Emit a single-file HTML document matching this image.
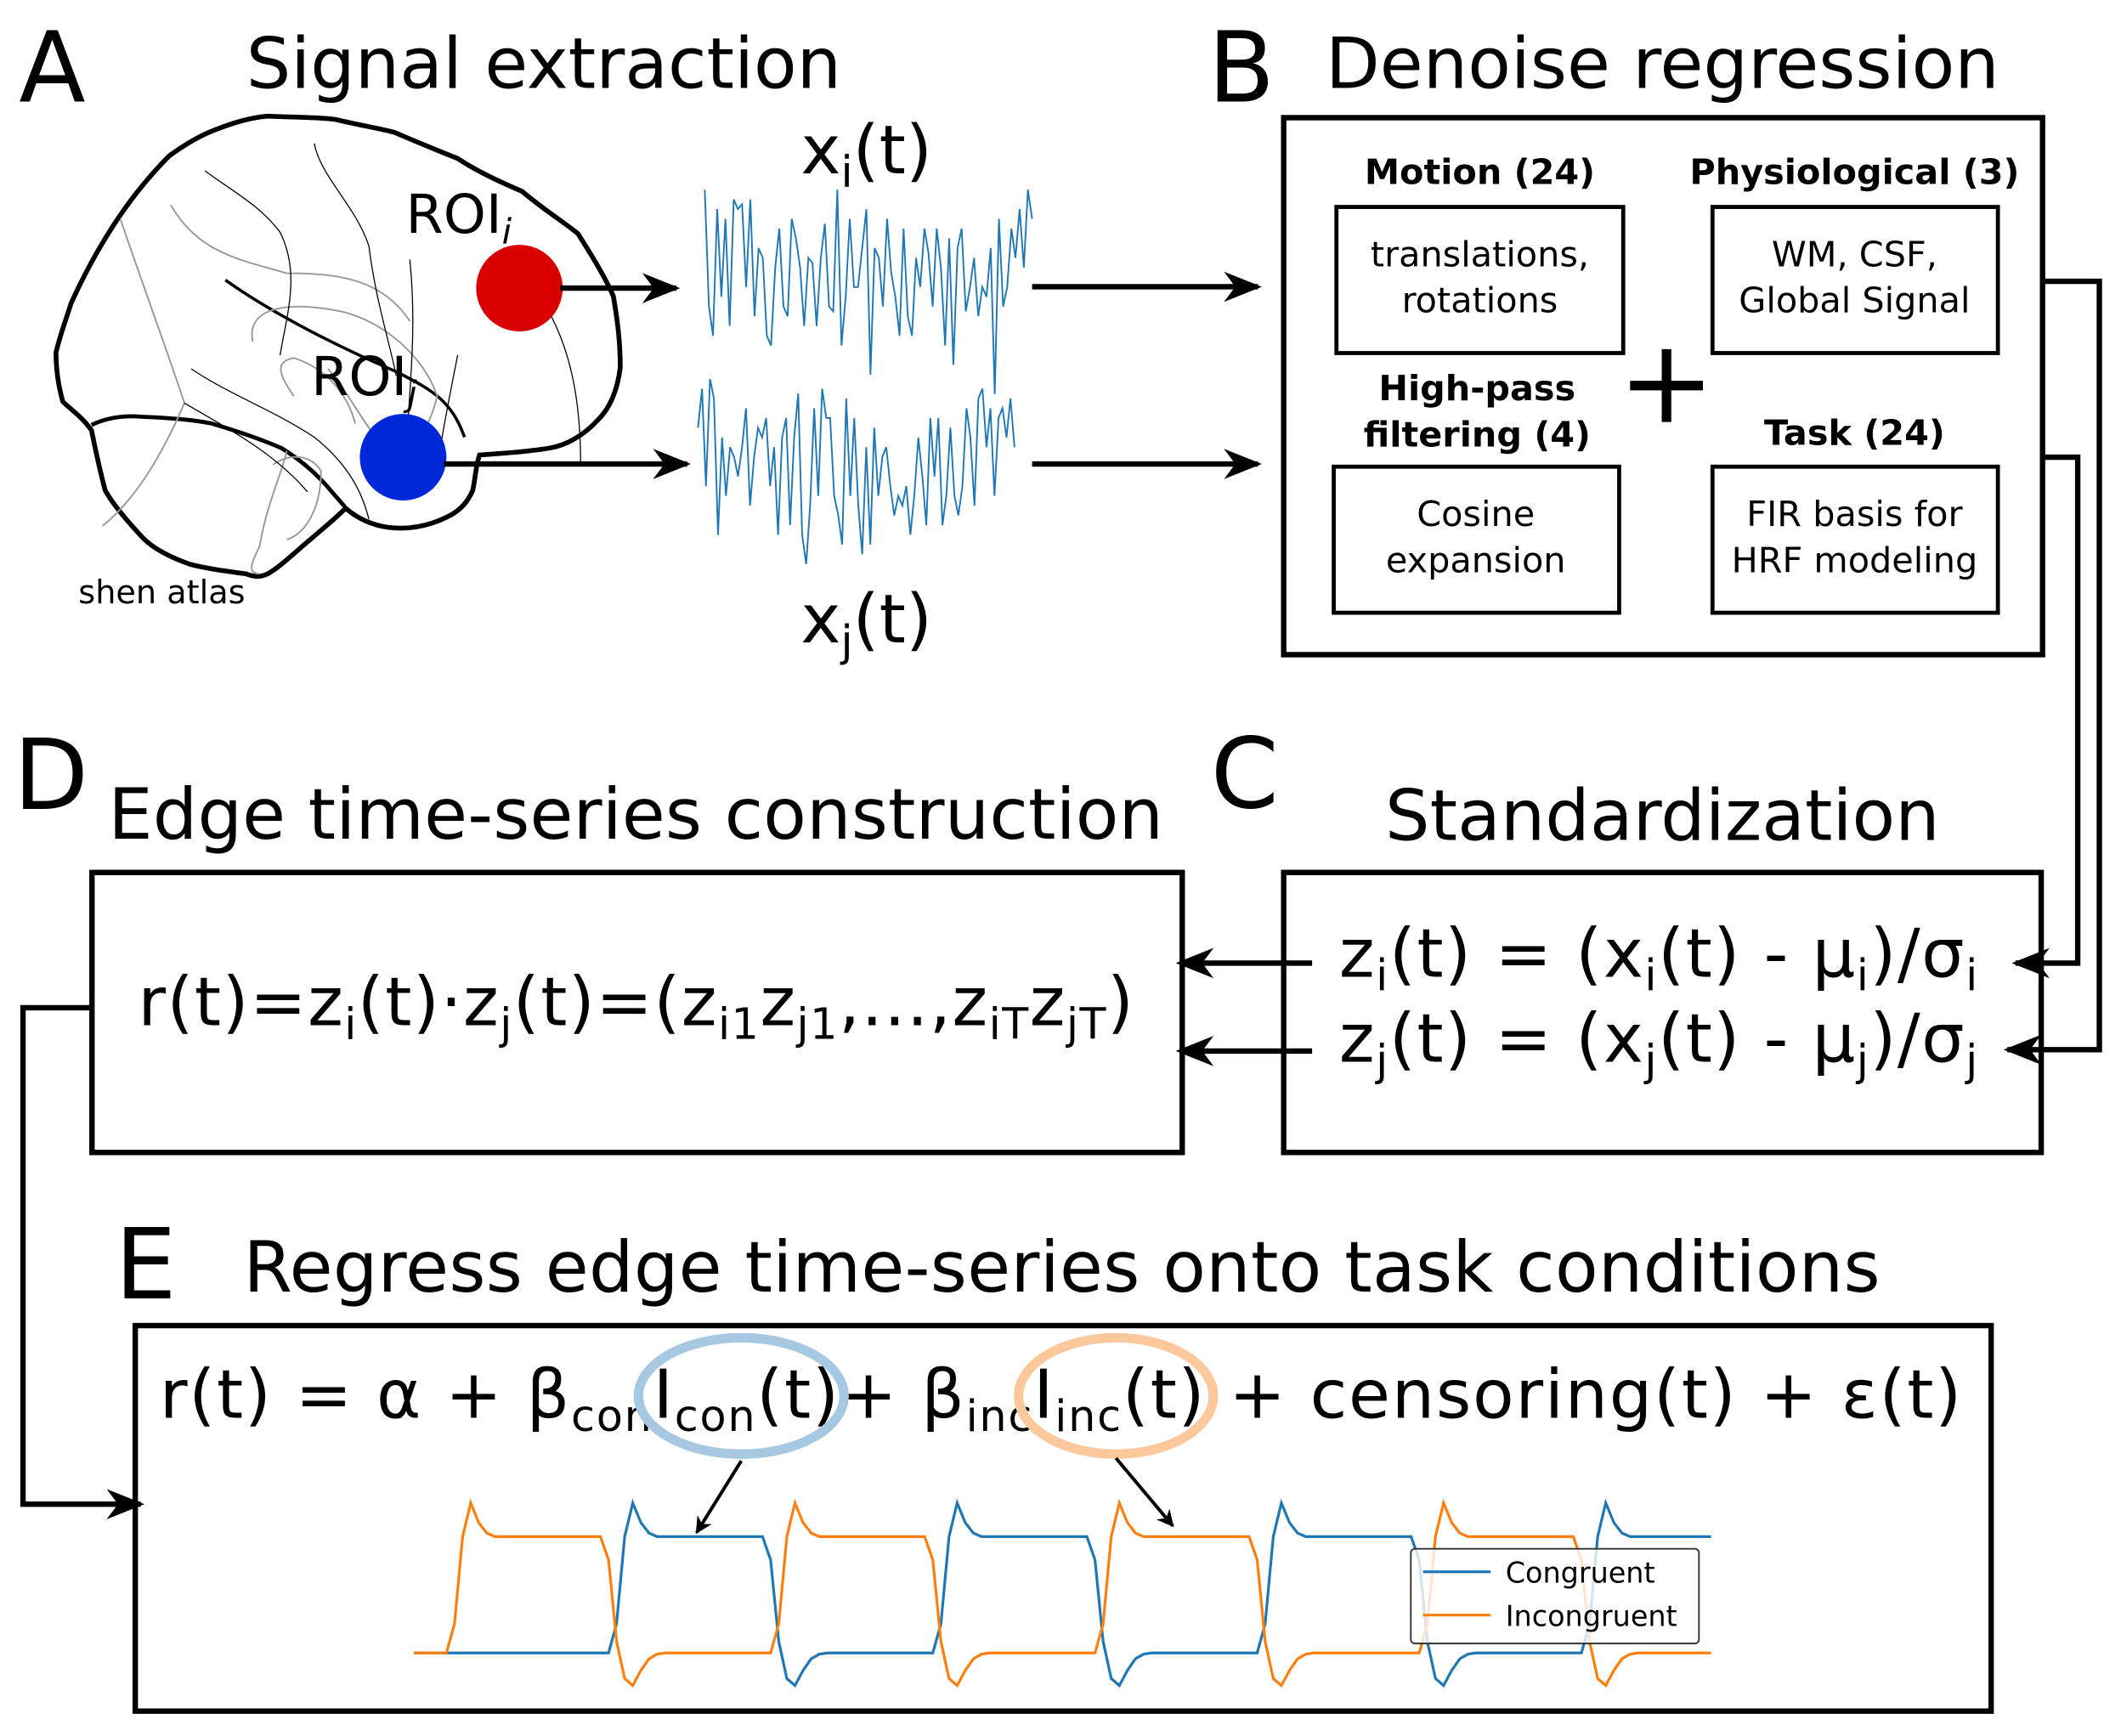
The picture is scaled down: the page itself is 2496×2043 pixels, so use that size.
<!DOCTYPE html>
<html><head><meta charset="utf-8"><style>
html,body{margin:0;padding:0;background:#fff;}
svg{display:block;font-family:"DejaVu Sans","Liberation Sans",sans-serif;}
</style></head><body>
<svg id="fig" width="2496" height="2043" viewBox="0 0 1568 1283.4" preserveAspectRatio="none">
<defs>
<marker id="ah" viewBox="0 0 10 10" refX="9" refY="5" markerWidth="5" markerHeight="5" orient="auto"><path d="M0,0 L10,5 L0,10 L3,5 Z" fill="#000"/></marker>
<marker id="ah2" viewBox="0 0 10 10" refX="9" refY="5" markerWidth="7" markerHeight="7" orient="auto"><path d="M0,1 L10,5 L0,9 L3,5 Z" fill="#000"/></marker>
</defs>

<!-- Panel A -->
<g>
<text x="14" y="75" font-size="72">A</text>
<text x="182" y="65" font-size="52" textLength="440">Signal extraction</text>
<g fill="none" transform="scale(1.01)">
<path d="M196,85 C220,86 240,86 248,88 C265,92 278,94 289,97 C305,104 320,110 335,116 C350,126 368,134 382,140 C400,155 412,162 423,171 C435,190 444,205 449,217 C452,235 454,250 454,269 C452,285 447,298 438,307 C428,318 415,326 402,328 C385,331 365,332 351,333 C348,342 348,350 346,359 C342,368 337,373 330,377 C315,385 300,388 284,386 C270,384 260,378 253,372 C245,380 235,388 227,395 C215,405 205,415 196,420 C190,423 185,422 180,420 C165,418 150,416 139,413 C122,407 110,400 103,392 C90,378 82,368 77,359 C72,340 69,325 67,315 C60,305 52,300 46,294 C42,280 41,268 41,258 C44,245 48,235 52,222 C62,200 72,182 83,165 C96,145 110,128 124,114 C135,106 145,100 155,96 C170,90 183,86 196,85 Z" stroke="#000" stroke-width="3.5"/>
<path d="M67,311 C80,305 92,304 103,305 C125,306 140,307 155,310 C175,316 190,321 206,328 C222,338 233,348 242,359 C248,366 252,370 253,372" stroke="#000" stroke-width="3"/>
<path d="M165,205 C200,230 250,255 290,272 C315,285 330,292 340,320" stroke="#000" stroke-width="2.2"/>
<path d="M88,160 C105,210 120,250 135,295 C120,330 100,365 75,385" stroke="#999" stroke-width="1.2"/>
<path d="M125,150 C145,185 175,190 210,200 C250,200 280,205 300,235" stroke="#999" stroke-width="1.2"/>
<path d="M185,250 C180,225 210,220 250,228 C280,235 310,260 320,290 C310,330 290,340 275,320 C260,300 250,280 240,270" stroke="#999" stroke-width="1.2"/>
<path d="M215,290 C205,275 200,265 215,262 C240,270 255,290 260,310" stroke="#999" stroke-width="1.2"/>
<path d="M210,330 C205,350 195,370 190,400 C185,410 180,420 190,420" stroke="#999" stroke-width="1.2"/>
<path d="M200,340 C215,330 230,335 235,345 C235,370 225,390 210,395" stroke="#999" stroke-width="1.2"/>
<path d="M230,105 C235,130 260,150 270,180 C275,220 285,250 290,275" stroke="#000" stroke-width="0.8"/>
<path d="M150,125 C170,140 190,150 205,170 C220,200 210,230 205,260" stroke="#000" stroke-width="0.8"/>
<path d="M140,270 C170,290 200,300 230,320 C255,340 265,360 270,380" stroke="#000" stroke-width="0.8"/>
<path d="M135,295 C160,310 200,330 225,360" stroke="#000" stroke-width="0.8"/>
<path d="M300,190 C305,240 300,280 298,320" stroke="#000" stroke-width="0.8"/>
<path d="M400,225 C420,260 425,300 425,340" stroke="#000" stroke-width="0.8"/>
<path d="M335,260 C330,285 325,310 322,330" stroke="#000" stroke-width="0.8"/>
</g>
<circle cx="384" cy="213" r="32" fill="#d80000"/>
<circle cx="298" cy="338" r="32" fill="#0028d8"/>
<text x="300" y="172" font-size="40">ROI<tspan font-size="26" dy="8" font-style="italic">i</tspan></text>
<text x="230" y="292" font-size="40">ROI<tspan font-size="26" dy="8" font-style="italic">j</tspan></text>
<text x="58" y="446" font-size="24">shen atlas</text>
<line x1="414" y1="213" x2="500" y2="213" stroke="#000" stroke-width="4" marker-end="url(#ah2)"/>
<line x1="328" y1="343" x2="508" y2="343" stroke="#000" stroke-width="4" marker-end="url(#ah2)"/>
<polyline id="tsi" fill="none" stroke="#1f77b4" stroke-width="1.2"/>
<polyline id="tsj" fill="none" stroke="#1f77b4" stroke-width="1.2"/>
<text x="592" y="128" font-size="50">x<tspan font-size="32" dy="10">i</tspan><tspan dy="-10">(t)</tspan></text>
<text x="592" y="475" font-size="50">x<tspan font-size="32" dy="10">j</tspan><tspan dy="-10">(t)</tspan></text>
<line x1="763" y1="212" x2="930" y2="212" stroke="#000" stroke-width="4" marker-end="url(#ah2)"/>
<line x1="763" y1="343" x2="930" y2="343" stroke="#000" stroke-width="4" marker-end="url(#ah2)"/>
</g>

<!-- Panel B -->
<g>
<text x="893" y="75" font-size="72">B</text>
<text x="980" y="65" font-size="52" textLength="498">Denoise regression</text>
<rect x="949" y="87" width="561" height="397" fill="none" stroke="#000" stroke-width="4"/>
<g font-size="26" text-anchor="middle">
<text x="1094" y="136" font-weight="bold">Motion (24)</text>
<text x="1371" y="136" font-weight="bold">Physiological (3)</text>
<rect x="988" y="153" width="212" height="108" fill="none" stroke="#000" stroke-width="3"/>
<text x="1094" y="197">translations,</text>
<text x="1094" y="231">rotations</text>
<rect x="1266" y="153" width="211" height="108" fill="none" stroke="#000" stroke-width="3"/>
<text x="1371" y="197">WM, CSF,</text>
<text x="1371" y="231">Global Signal</text>
<text x="1092" y="296" font-weight="bold">High-pass</text>
<text x="1092" y="330" font-weight="bold">filtering (4)</text>
<text x="1371" y="329" font-weight="bold">Task (24)</text>
<rect x="986" y="345" width="211" height="108" fill="none" stroke="#000" stroke-width="3"/>
<text x="1091" y="389">Cosine</text>
<text x="1091" y="423">expansion</text>
<rect x="1266" y="345" width="211" height="108" fill="none" stroke="#000" stroke-width="3"/>
<text x="1371" y="389">FIR basis for</text>
<text x="1371" y="423">HRF modeling</text>
</g>
<text x="1232" y="312" font-size="86" text-anchor="middle">+</text>
<polyline points="1510,208 1552,208 1552,776 1484,776" fill="none" stroke="#000" stroke-width="4" marker-end="url(#ah2)"/>
<polyline points="1510,338 1536,338 1536,712 1490,712" fill="none" stroke="#000" stroke-width="4" marker-end="url(#ah2)"/>
</g>

<!-- Panel C -->
<g>
<text x="895" y="597" font-size="72">C</text>
<text x="1024" y="621" font-size="52" textLength="410">Standardization</text>
<rect x="949" y="645" width="560" height="207" fill="none" stroke="#000" stroke-width="4"/>
<text x="990" y="722" font-size="50" textLength="472">z<tspan font-size="32" dy="10">i</tspan><tspan dy="-10">(t) = (x</tspan><tspan font-size="32" dy="10">i</tspan><tspan dy="-10">(t) - μ</tspan><tspan font-size="32" dy="10">i</tspan><tspan dy="-10">)/σ</tspan><tspan font-size="32" dy="10">i</tspan></text>
<text x="990" y="785" font-size="50" textLength="472">z<tspan font-size="32" dy="10">j</tspan><tspan dy="-10">(t) = (x</tspan><tspan font-size="32" dy="10">j</tspan><tspan dy="-10">(t) - μ</tspan><tspan font-size="32" dy="10">j</tspan><tspan dy="-10">)/σ</tspan><tspan font-size="32" dy="10">j</tspan></text>
<line x1="970" y1="712" x2="872" y2="712" stroke="#000" stroke-width="4" marker-end="url(#ah2)"/>
<line x1="970" y1="777" x2="872" y2="777" stroke="#000" stroke-width="4" marker-end="url(#ah2)"/>
</g>

<!-- Panel D -->
<g>
<text x="10" y="598" font-size="72">D</text>
<text x="80" y="620" font-size="52" textLength="780">Edge time-series construction</text>
<rect x="68" y="645" width="806" height="207" fill="none" stroke="#000" stroke-width="4"/>
<text x="102" y="758" font-size="50" textLength="736">r(t)=z<tspan font-size="32" dy="10">i</tspan><tspan dy="-10">(t)·z</tspan><tspan font-size="32" dy="10">j</tspan><tspan dy="-10">(t)=(z</tspan><tspan font-size="32" dy="10">i1</tspan><tspan dy="-10">z</tspan><tspan font-size="32" dy="10">j1</tspan><tspan dy="-10">,...,z</tspan><tspan font-size="32" dy="10">iT</tspan><tspan dy="-10">z</tspan><tspan font-size="32" dy="10">jT</tspan><tspan dy="-10">)</tspan></text>
<polyline points="68,745 17,745 17,1112 104,1112" fill="none" stroke="#000" stroke-width="4" marker-end="url(#ah2)"/>
</g>

<!-- Panel E -->
<g>
<text x="85" y="960" font-size="72">E</text>
<text x="180" y="955" font-size="52" textLength="1210">Regress edge time-series onto task conditions</text>
<rect x="100" y="980" width="1372" height="285" fill="none" stroke="#000" stroke-width="4"/>
<text x="118" y="1048" font-size="50" textLength="1332">r(t) = α + β<tspan font-size="32" dy="10">con</tspan><tspan dy="-10">I</tspan><tspan font-size="32" dy="10">con</tspan><tspan dy="-10">(t)+ β</tspan><tspan font-size="32" dy="10">inc</tspan><tspan dy="-10">I</tspan><tspan font-size="32" dy="10">inc</tspan><tspan dy="-10">(t) + censoring(t) + ε(t)</tspan></text>
<ellipse cx="548" cy="1032" rx="76" ry="43" fill="none" stroke="#a6c8e0" stroke-width="7"/>
<ellipse cx="825" cy="1032" rx="72" ry="43" fill="none" stroke="#fdc89b" stroke-width="7"/>
<line x1="548" y1="1080" x2="515" y2="1133" stroke="#000" stroke-width="2.5" marker-end="url(#ah)"/>
<line x1="825" y1="1078" x2="867" y2="1128" stroke="#000" stroke-width="2.5" marker-end="url(#ah)"/>
<g id="chart"></g>
<g>
<rect x="1043" y="1145" width="213" height="70" rx="3" fill="rgba(255,255,255,0.8)" stroke="#333" stroke-width="1.2"/>
<line x1="1052" y1="1162" x2="1102" y2="1162" stroke="#1f77b4" stroke-width="2"/>
<text x="1113" y="1170" font-size="21">Congruent</text>
<line x1="1052" y1="1194" x2="1102" y2="1194" stroke="#ff7f0e" stroke-width="2"/>
<text x="1113" y="1202" font-size="21">Incongruent</text>
</g>
</g>
</svg>
<script>
// Noise time series (panel A), values in arbitrary units
const xiValues = [0.9,-0.3,-0.6,0.7,-0.2,0.6,-0.5,0.8,0.7,0.75,-0.1,0.8,-0.4,0.3,0.2,-0.6,-0.7,0.1,0.5,-0.3,-0.4,0.6,0.4,0.1,-0.5,0.2,0.15,-0.5,0.2,0.55,-0.3,-0.35,0.9,-0.7,-0.2,0.6,-0.1,-0.1,0.3,0.7,-1.0,0.3,0.2,-0.3,0.6,0.05,-0.2,-0.6,0.5,-0.4,-0.6,0.2,-0.1,0.5,0.25,-0.3,0.5,0.1,-0.7,0.4,-0.9,0.3,0.5,-0.35,-0.1,0.2,-0.4,-0.1,-0.2,0.3,-1.2,0.6,-0.3,-0.1,0.5,0.2,0.7,0.1,0.9,0.6];
const xjValues = [0.4,0.8,-0.2,0.9,0.7,-0.7,0.3,-0.3,0.2,0.1,-0.1,0.2,0.6,-0.4,0.1,0.4,0.3,0.5,-0.2,0.2,-0.7,0.3,0.5,-0.6,0.3,0.75,-0.7,-1.0,-0.4,0.6,-0.3,0.8,0.5,0.5,-0.3,-0.5,-0.8,0.7,-0.3,0.5,-0.4,-0.9,0.2,-0.8,0.4,-0.3,0.1,0.2,-0.2,-0.5,-0.3,-0.4,-0.2,-0.7,-0.3,0.3,-0.1,-0.6,0.5,-0.1,0.5,-0.6,-0.3,0.4,-0.3,-0.5,-0.2,0.6,0.3,-0.4,0.7,0.8,0.2,0.6,-0.3,0.5,0.6,0.3,0.7,0.2];

// Task regressor chart (panel E)
const congruentOnsets = [12, 32, 52, 72];
const incongruentOnsets = [2, 22, 42, 62];
const responseOffsets = [0,0.5,1,1.5,2,2.5,3,3.5,4,9.5,10,10.5,11,11.5,12,12.5,13,13.5];
const responseValues =  [0,0.25,1.0,1.29,1.12,1.03,1.0,1.0,1.0,1.0,0.8,0.1,-0.22,-0.28,-0.15,-0.05,-0.01,0];
const timeDomain = [0, 80];

const SVGNS = "http://www.w3.org/2000/svg";
function tsPoints(vals, x0, x1, yc, amp) {
  return vals.map((v, k) => (x0 + (x1 - x0) * k / (vals.length - 1)).toFixed(1) + "," + (yc - v * amp).toFixed(1)).join(" ");
}
document.getElementById("tsi").setAttribute("points", tsPoints(xiValues, 521, 763, 205, 72));
document.getElementById("tsj").setAttribute("points", tsPoints(xjValues, 516, 750, 345, 72));

const xScale = t => 306 + (t - timeDomain[0]) / (timeDomain[1] - timeDomain[0]) * (1265 - 306);
const yScale = v => 1222 - v * 86;
function seriesPoints(onsets) {
  const times = new Set([timeDomain[0], timeDomain[1]]);
  onsets.forEach(o => responseOffsets.forEach(d => { const t = o + d; if (t >= timeDomain[0] && t <= timeDomain[1]) times.add(t); }));
  const sorted = [...times].sort((a, b) => a - b);
  function val(t) {
    let s = 0;
    onsets.forEach(o => {
      const d = t - o;
      if (d < 0 || d > responseOffsets[responseOffsets.length - 1]) return;
      for (let k = 0; k < responseOffsets.length - 1; k++) {
        const a = responseOffsets[k], b = responseOffsets[k + 1];
        if (d >= a && d <= b) { s += responseValues[k] + (responseValues[k + 1] - responseValues[k]) * (d - a) / (b - a); return; }
      }
    });
    return s;
  }
  return sorted.map(t => xScale(t).toFixed(1) + "," + yScale(val(t)).toFixed(1)).join(" ");
}
const chart = document.getElementById("chart");
const lc = document.createElementNS(SVGNS, "polyline");


lc.setAttribute("points", seriesPoints(congruentOnsets));
lc.setAttribute("fill", "none"); lc.setAttribute("stroke", "#1f77b4"); lc.setAttribute("stroke-width", "2");
chart.appendChild(lc);
const li = document.createElementNS(SVGNS, "polyline");


li.setAttribute("points", seriesPoints(incongruentOnsets));
li.setAttribute("fill", "none"); li.setAttribute("stroke", "#ff7f0e"); li.setAttribute("stroke-width", "2");
chart.appendChild(li);
</script>
</body></html>
